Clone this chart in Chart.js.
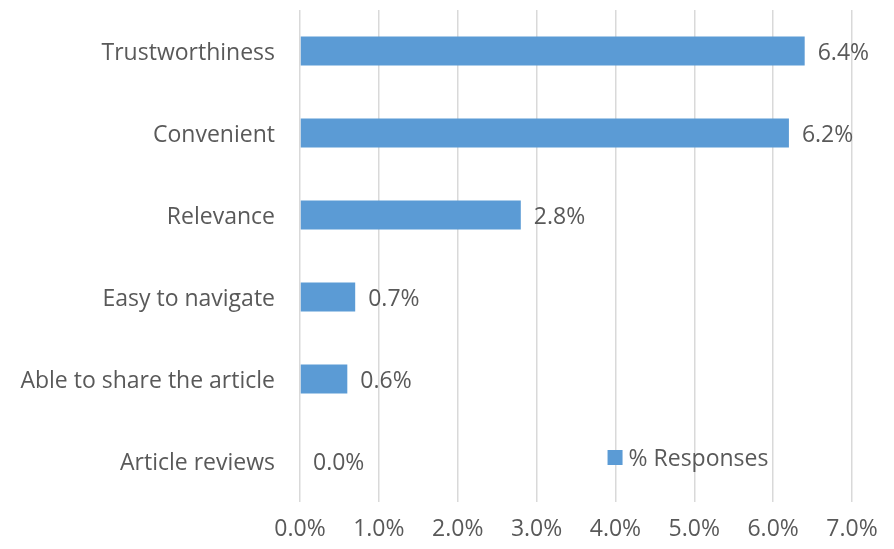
<!DOCTYPE html>
<html>
<head>
<meta charset="utf-8">
<script src="https://cdn.jsdelivr.net/npm/chart.js@4.4.1/dist/chart.umd.min.js"></script>
<style>
  html, body { margin: 0; padding: 0; background: #fff; }
  #wrap { width: 894px; height: 549px; }
</style>
</head>
<body>
<div id="wrap"><canvas id="grafico" width="894" height="549"></canvas></div>
<script>
// Datos
const categorias = [
  "Trustworthiness",
  "Convenient",
  "Relevance",
  "Easy to navigate",
  "Able to share the article",
  "Article reviews"
];
const respuestas = [6.4, 6.2, 2.8, 0.7, 0.6, 0.0];
const etiquetaSerie = "% Responses";
const ticksX = [0, 1, 2, 3, 4, 5, 6, 7];

const azul = "#5B9BD5";
const gris = "#595959";
const fuente = "'Open Sans', sans-serif";
const tamFuente = 23;

// Etiquetas de valor al final de cada barra
const etiquetasValor = {
  id: "etiquetasValor",
  afterDatasetsDraw(chart) {
    const ctx = chart.ctx;
    const meta = chart.getDatasetMeta(0);
    ctx.save();
    ctx.font = tamFuente + "px " + fuente;
    ctx.fillStyle = gris;
    ctx.textAlign = "left";
    ctx.textBaseline = "middle";
    meta.data.forEach((bar, i) => {
      const v = chart.data.datasets[0].data[i];
      ctx.fillText(v.toFixed(1) + "%", bar.x + 13, bar.y + 2);
    });
    ctx.restore();
  }
};

// Leyenda dentro del área del gráfico
const leyenda = {
  id: "leyenda",
  afterDraw(chart) {
    const ctx = chart.ctx;
    const x = chart.scales.x.getPixelForValue(3.9);
    const y = chart.scales.y.getPixelForValue(5);
    const ds = chart.data.datasets[0];
    ctx.save();
    ctx.fillStyle = ds.backgroundColor;
    ctx.fillRect(x, y - 11, 15, 15);
    ctx.font = tamFuente + "px " + fuente;
    ctx.fillStyle = gris;
    ctx.textAlign = "left";
    ctx.textBaseline = "middle";
    ctx.fillText(ds.label, x + 21, y - 2);
    ctx.restore();
  }
};

new Chart(document.getElementById("grafico"), {
  type: "bar",
  data: {
    labels: categorias,
    datasets: [{
      label: etiquetaSerie,
      data: respuestas,
      backgroundColor: azul,
      borderWidth: 0,
      categoryPercentage: 1,
      barPercentage: 0.354
    }]
  },
  options: {
    indexAxis: "y",
    responsive: false,
    animation: false,
    layout: { padding: { left: 0, right: 42, top: 10, bottom: 0 } },
    plugins: {
      legend: { display: false },
      tooltip: { enabled: false }
    },
    scales: {
      x: {
        min: 0,
        max: 7,
        afterBuildTicks(scale) {
          scale.ticks = ticksX.map(v => ({ value: v }));
        },
        afterFit(scale) {
          scale.height = 47;
          scale.paddingLeft = 0;
          scale.paddingRight = 0;
        },
        grid: { color: "#D9D9D9", lineWidth: 1.5, drawTicks: false },
        border: { display: false },
        ticks: {
          padding: 14,
          color: gris,
          font: { family: fuente, size: tamFuente },
          callback: v => v.toFixed(1) + "%"
        }
      },
      y: {
        afterFit(scale) {
          scale.width = 300;
          scale.paddingTop = 0;
          scale.paddingBottom = 0;
        },
        grid: { display: false },
        border: { display: false },
        ticks: {
          padding: 17,
          labelOffset: 2,
          color: gris,
          font: { family: fuente, size: tamFuente }
        }
      }
    }
  },
  plugins: [etiquetasValor, leyenda]
});
</script>
</body>
</html>
